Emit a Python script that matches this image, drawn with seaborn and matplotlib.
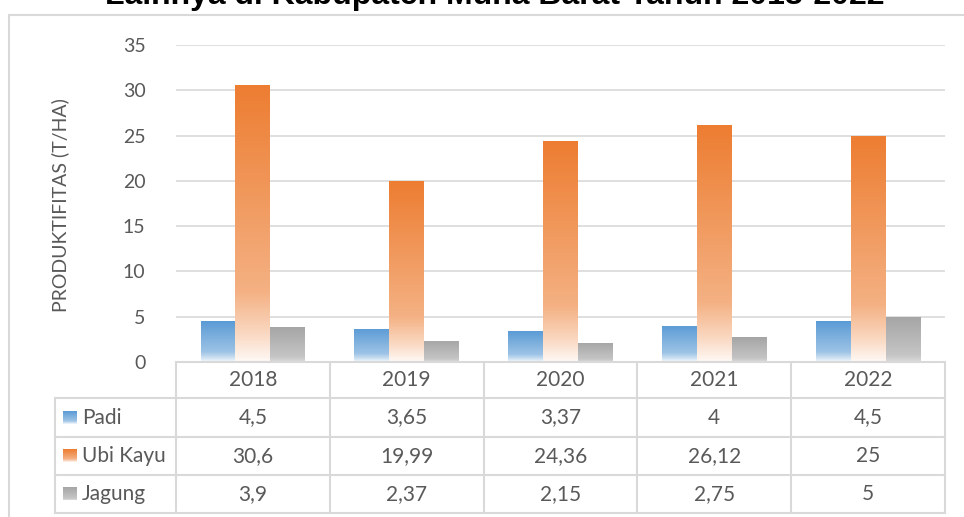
import numpy as np
import pandas as pd
import matplotlib
matplotlib.use("Agg")
import matplotlib.pyplot as plt
import matplotlib.transforms as mtransforms
from matplotlib.colors import to_rgb
import seaborn as sns

# data
tahun = ["2018", "2019", "2020", "2021", "2022"]
komoditas = ["Padi", "Ubi Kayu", "Jagung"]
padi = [4.5, 3.65, 3.37, 4, 4.5]
ubi_kayu = [30.6, 19.99, 24.36, 26.12, 25]
jagung = [3.9, 2.37, 2.15, 2.75, 5]
yticks = [0, 5, 10, 15, 20, 25, 30, 35]

warna = {"Padi": "#5B9BD5", "Ubi Kayu": "#ED7D31", "Jagung": "#A5A5A5"}
teks = "#595959"
garis = "#D9D9D9"

df = pd.DataFrame({
    "tahun": tahun * 3,
    "komoditas": [k for k in komoditas for _ in tahun],
    "nilai": padi + ubi_kayu + jagung,
})

sns.set_style("white")
plt.rcParams["font.family"] = ["Lato", "DejaVu Sans"]

W, H = 964, 517
fig = plt.figure(figsize=(W / 100, H / 100), dpi=100)
ax = fig.add_axes([176 / W, 1 - 362 / H, (945 - 176) / W, (362 - 45) / H])

sns.barplot(data=df, x="tahun", y="nilai", hue="komoditas", order=tahun,
            hue_order=komoditas, palette=warna, width=0.68, gap=0,
            legend=False, ax=ax)


def gradien(base, n=200):
    # solid at top, fading towards white at the bottom
    r, g, b = to_rgb(base)
    t = np.linspace(0, 1, n)
    putih = np.interp(t, [0, 0.75, 0.9, 1.0], [0, 0.4, 0.7, 0.95])
    if base == warna["Jagung"]:
        putih = np.interp(t, [0, 0.85, 1.0], [0, 0.35, 0.6])
    img = np.zeros((n, 1, 4))
    img[:, 0, 0] = r + (1 - r) * putih
    img[:, 0, 1] = g + (1 - g) * putih
    img[:, 0, 2] = b + (1 - b) * putih
    img[:, 0, 3] = 1
    return img


bars = list(ax.patches)
for p in bars:
    x0, y0 = p.get_x(), p.get_y()
    w, h = p.get_width(), p.get_height()
    base = np.array(to_rgb(p.get_facecolor()))
    key = min(warna, key=lambda k: np.sum((np.array(to_rgb(warna[k])) - base) ** 2))
    im = ax.imshow(gradien(warna[key]), extent=(x0, x0 + w, y0, y0 + h),
                   origin="upper", aspect="auto", zorder=3)
    im.set_clip_path(p)
    p.set_facecolor("none")
    p.set_edgecolor("none")

ax.set_xlim(-0.5, len(tahun) - 0.5)
ax.set_ylim(0, 35)
ax.set_yticks(yticks)
ax.set_yticklabels([str(v) for v in yticks], color=teks, fontsize=14)
ax.tick_params(axis="y", length=0, pad=22)
ax.set_xticks([])
ax.set_xlabel("")
ax.set_ylabel("")
ax.grid(axis="y", color=garis, lw=1.2)
ax.set_axisbelow(True)
for s in ax.spines.values():
    s.set_visible(False)

fig.text(60 / W, 1 - 205 / H, "PRODUKTIFITAS (T/HA)", rotation=90,
         ha="center", va="center", color=teks, fontsize=14)

fig.text(495 / W, 1 - 4 / H, "Lainnya di Kabupaten Muna Barat Tahun 2018-2022",
         ha="center", va="baseline", fontsize=23, fontweight="bold",
         family="Liberation Sans", color="black")

# overlay for the data table (pixel coords)
ov = fig.add_axes([0, 0, 1, 1], zorder=5)
ov.set_xlim(0, W)
ov.set_ylim(H, 0)
ov.axis("off")
ov.patch.set_alpha(0)
bt = mtransforms.blended_transform_factory(ax.transData, ov.transData)

# outer chart border
ov.plot([9, 9], [15, H], color=garis, lw=1.5)
ov.plot([9, W], [15, 15], color=garis, lw=1.5)

row_y = [362, 398, 437, 475, 513]
x_left, x_axis, x_right = 55, 176, 945
ov.plot([x_axis, x_right], [row_y[0], row_y[0]], color=garis, lw=1.5)
for yy in row_y[1:]:
    ov.plot([x_left, x_right], [yy, yy], color=garis, lw=1.5)
ov.plot([x_left, x_left], [row_y[1], row_y[-1]], color=garis, lw=1.5)
for i in range(len(tahun) + 1):
    ov.plot([i - 0.5, i - 0.5], [row_y[0], row_y[-1]], color=garis, lw=1.5,
            transform=bt)

for i, t in enumerate(tahun):
    ov.text(i, (row_y[0] + row_y[1]) / 2, t, transform=bt, ha="center",
            va="center", color=teks, fontsize=15)

series = [padi, ubi_kayu, jagung]
for r, (nama, vals) in enumerate(zip(komoditas, series)):
    yc = (row_y[r + 1] + row_y[r + 2]) / 2
    for i, v in enumerate(vals):
        ov.text(i, yc, f"{v:g}".replace(".", ","), transform=bt, ha="center",
                va="center", color=teks, fontsize=15)
    ov.imshow(gradien(warna[nama]), extent=(63, 77, yc + 6.5, yc - 6.5),
              origin="upper", aspect="auto")
    ov.text(82, yc, nama, ha="left", va="center", color=teks, fontsize=15)

ov.set_xlim(0, W)
ov.set_ylim(H, 0)

fig.savefig("out.png", dpi=100)
